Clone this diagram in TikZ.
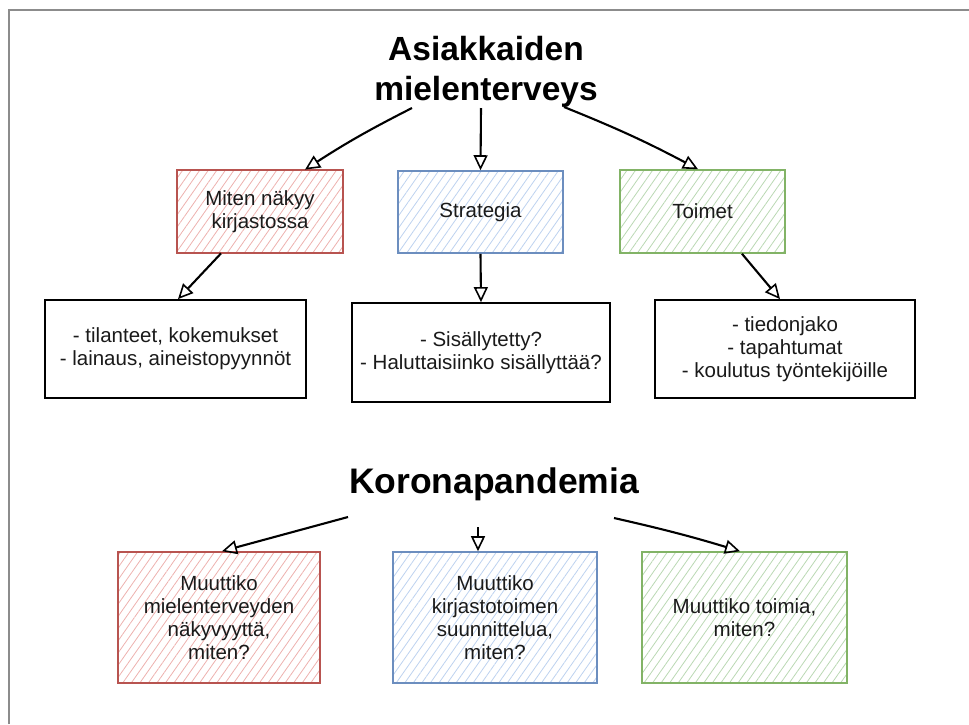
\documentclass[tikz,border=0pt]{standalone}
\usepackage{fontspec}
\setmainfont{Liberation Sans}
\usetikzlibrary{arrows.meta,patterns.meta,calc}
\definecolor{redS}{HTML}{B85450}
\definecolor{redF}{HTML}{EDB1AE}
\definecolor{bluS}{HTML}{6C8EBF}
\definecolor{bluF}{HTML}{BDD2EF}
\definecolor{grnS}{HTML}{82B366}
\definecolor{grnF}{HTML}{BAD8B3}
\definecolor{txt}{HTML}{1A1A1A}
\begin{document}
\begin{tikzpicture}[x=1pt,y=-1pt,
  box/.style={rectangle,inner sep=2pt,align=center,text=txt,line width=1.6pt,
    font=\fontsize{20.5}{23}\selectfont},
  hatch/.style={pattern={Lines[angle=55,distance=7pt,line width=0.8pt]}},
  redbox/.style={box,draw=redS,hatch,pattern color=redF},
  blubox/.style={box,draw=bluS,hatch,pattern color=bluF},
  grnbox/.style={box,draw=grnS,hatch,pattern color=grnF},
  blkbox/.style={box,draw=black,fill=white,line width=1.8pt},
  ttl/.style={align=center,font=\fontsize{33.5}{40}\selectfont\bfseries,text=black},
  arr/.style={-{Triangle[open,length=15pt,width=14pt,line width=1.6pt]},line width=2.1pt,black},
]
\useasboundingbox (0,0) rectangle (969,724);
\draw[line width=2pt,color=black!45] (9,724) -- (9,10) -- (969,10);

\node[ttl] (t1) at (486,72) {Asiakkaiden\\mielenterveys};
\node[ttl,font=\fontsize{35.5}{40}\selectfont\bfseries] (t2) at (494,484) {Koronapandemia};

\node[redbox,minimum width=166pt,minimum height=83pt] (r1) at (260,211.5) {Miten näkyy\\kirjastossa};
\node[blubox,minimum width=165pt,minimum height=82pt] (b1) at (480.5,212) {Strategia};
\node[grnbox,minimum width=165pt,minimum height=83pt] (g1) at (702.5,211.5) {Toimet};

\node[blkbox,minimum width=261pt,minimum height=98pt] (k1) at (175.5,349) {- tilanteet, kokemukset\\- lainaus, aineistopyynnöt};
\node[blkbox,minimum width=258pt,minimum height=99pt] (k2) at (481,352.5) {- Sisällytetty?\\- Haluttaisiinko sisällyttää?};
\node[blkbox,minimum width=260pt,minimum height=98pt] (k3) at (785,349) {- tiedonjako\\- tapahtumat\\- koulutus työntekijöille};

\node[redbox,minimum width=202pt,minimum height=131pt] (br) at (219,617.5) {Muuttiko\\mielenterveyden\\näkyvyyttä,\\miten?};
\node[blubox,minimum width=204pt,minimum height=131pt] (bb) at (495,617.5) {Muuttiko\\kirjastotoimen\\suunnittelua,\\miten?};
\node[grnbox,minimum width=205pt,minimum height=131pt] (bg) at (744.5,617.5) {Muuttiko toimia,\\miten?};

\coordinate (s1) at (412,108);
\coordinate (s2) at (481,108);
\coordinate (s3) at (564,107);
\coordinate (s4) at (348,517);
\coordinate (s5) at (478,527);
\coordinate (s6) at (614,518);

\draw[arr] (s1) to[bend right=3] ([xshift=45pt]r1.north);
\draw[arr] (s2) -- (b1.north);
\draw[arr] (s3) to[bend left=3] ([xshift=-4.5pt]g1.north);
\draw[arr] ([xshift=-39pt]r1.south) -- ([xshift=2.5pt]k1.north);
\draw[arr] (b1.south) -- (k2.north);
\draw[arr] ([xshift=39.5pt]g1.south) -- ([xshift=-5pt]k3.north);
\draw[arr] (s4) -- ([xshift=3pt]br.north);
\draw[arr] (s5) -- ([xshift=-17pt]bb.north);
\draw[arr] (s6) to[bend left=2] ([xshift=-4.5pt]bg.north);
\end{tikzpicture}
\end{document}
